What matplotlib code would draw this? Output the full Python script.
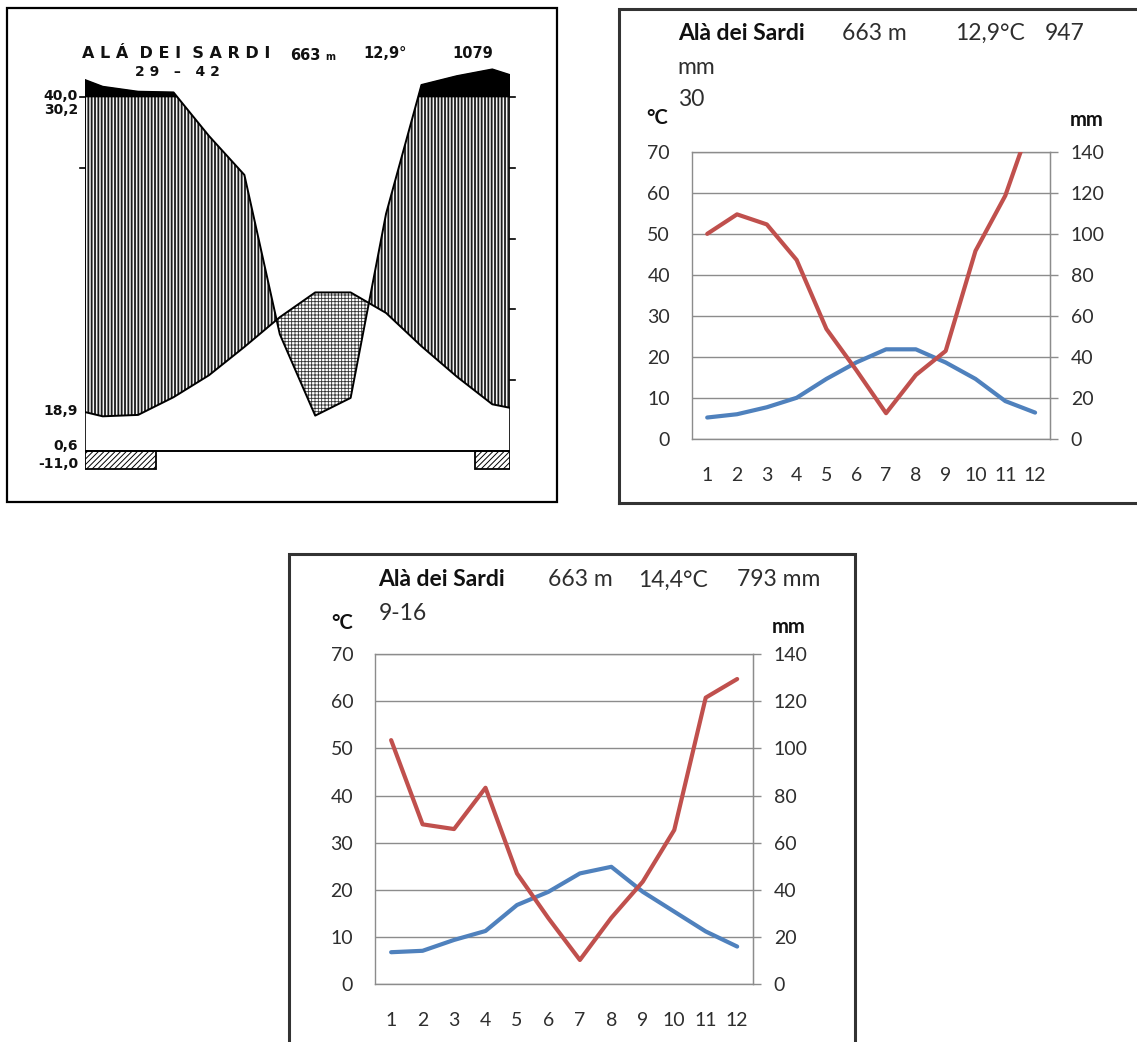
import numpy as np
import matplotlib.pyplot as plt
from matplotlib.patches import Rectangle

plt.rcParams['font.family'] = ['Lato', 'DejaVu Sans']

W, H = 1137, 1042

# ---- data ----
months = np.arange(1, 13)
month_labels = [str(m) for m in months]

# scanned Walter-Lieth diagram (29-42); first/last points are the edge values
scan_x = np.array([0.5, 1, 2, 3, 4, 5, 6, 7, 8, 9, 10, 11, 12, 12.5])
scan_temp = np.array([5.5, 4.9, 5.1, 7.6, 10.7, 14.7, 18.9, 22.4, 22.4, 19.5, 14.8, 10.5, 6.6, 6.1])
scan_prec = np.array([148, 129, 115, 113, 89, 78, 33, 10, 15, 67, 134, 159, 178, 162])
frost_months = [1, 2, 12]
scan_labels = ['40,0', '30,2', '18,9', '0,6', '-11,0']

# Excel chart, period 30 years
temp_30 = [5.3, 6.1, 7.8, 10.1, 14.7, 18.7, 21.9, 21.9, 18.7, 14.7, 9.3, 6.5]
prec_30 = [100, 109.5, 104.6, 87.3, 53.7, 33.7, 12.7, 31.3, 43, 91.7, 118.6, 160]

# Excel chart, period 9-16
temp_916 = [6.8, 7.1, 9.4, 11.3, 16.8, 19.6, 23.5, 24.9, 19.6, 15.4, 11.2, 8.0]
prec_916 = [103.5, 67.8, 65.8, 83.3, 47, 28, 10.3, 28.2, 43.5, 65.4, 121.5, 129.4]

RED = '#C0504D'
BLUE = '#4F81BD'
GRID = '#8c8c8c'
TXT = '#2e2e2e'


def px_axes(x0, y0, x1, y1):
    # axes placed by pixel box (top-left origin)
    return fig.add_axes([x0 / W, 1 - y1 / H, (x1 - x0) / W, (y1 - y0) / H])


def prec_scale(p):
    # 10 degC = 20 mm, above 100 mm the scale is reduced by 10
    p = np.asarray(p, dtype=float)
    return np.where(p <= 100, p / 2.0, 50 + (p - 100) / 20.0)


fig = plt.figure(figsize=(W / 100, H / 100), dpi=100)

# overlay in pixel coordinates for frames and texts
ov = fig.add_axes([0, 0, 1, 1])
ov.set_xlim(0, W)
ov.set_ylim(H, 0)
ov.axis('off')

ov.add_patch(Rectangle((7, 8), 550, 494, fill=False, ec='black', lw=1.6))
ov.plot([619, 619, 1140], [503, 9, 9], color='#333333', lw=2.2, solid_joinstyle='miter')
ov.plot([619, 1140], [503, 503], color='#333333', lw=2.2)
ov.plot([289, 289, 855, 855], [1045, 554, 554, 1045], color='#333333', lw=2.2,
        solid_joinstyle='miter')

# ---- scanned diagram ----
sc = px_axes(85, 61.6, 510, 475.8)
sc.set_xlim(0.5, 12.5)
sc.set_ylim(-3.5, 55)
sc.axis('off')

yp = prec_scale(scan_prec)
with plt.rc_context({'hatch.linewidth': 1.3}):
    sc.fill_between(scan_x, scan_temp, yp, where=yp >= scan_temp, interpolate=True,
                    facecolor='#f4f4f4', edgecolor='#1a1a1a', hatch='|||||', lw=0)
with plt.rc_context({'hatch.linewidth': 0.6}):
    sc.fill_between(scan_x, yp, scan_temp, where=scan_temp >= yp, interpolate=True,
                    facecolor='white', edgecolor='#333333', hatch='+++++', lw=0)
sc.fill_between(scan_x, 50, yp, where=yp >= 50, interpolate=True,
                facecolor='black', edgecolor='black', lw=0.5)
sc.plot(scan_x, scan_temp, color='black', lw=1.4)
sc.plot(scan_x, yp, color='black', lw=1.4)
sc.plot([0.5, 0.5], [0, 50], color='black', lw=1.2)
sc.plot([12.5, 12.5], [0, 50], color='black', lw=1.2)
sc.plot([0.5, 12.5], [0, 0], color='black', lw=1.4)

# frost boxes, consecutive months merged
runs = []
for m in sorted(frost_months):
    if runs and m == runs[-1][1] + 1:
        runs[-1][1] = m
    else:
        runs.append([m, m])
with plt.rc_context({'hatch.linewidth': 0.7}):
    for a, b in runs:
        sc.add_patch(Rectangle((a - 0.5, -2.6), b - a + 1, 2.6, facecolor='white',
                               edgecolor='black', hatch='//////', lw=1.3))

for lev in [10, 20, 30, 40, 50]:
    sc.plot([12.5, 12.65], [lev, lev], color='black', lw=1.2, clip_on=False)
for lev in [40, 50]:
    sc.plot([0.35, 0.5], [lev, lev], color='black', lw=1.2, clip_on=False)

scan_font = dict(family='DejaVu Sans', fontweight='bold', color='#111111')
for lab, yy in zip(scan_labels, [96, 110, 411, 446, 464]):
    ov.text(78, yy, lab, ha='right', va='center', fontsize=10, **scan_font)

ov.text(82, 54, 'A L Á  D E I  S A R D I', ha='left', va='center', fontsize=11.5,
        **scan_font)
ov.text(290, 55, '663', ha='left', va='center', fontsize=10.5, **scan_font)
ov.text(325, 57, 'm', ha='left', va='center', fontsize=7, **scan_font)
ov.text(363, 54, '12,9°', ha='left', va='center', fontsize=10.5, **scan_font)
ov.text(452, 54, '1079', ha='left', va='center', fontsize=10.5, **scan_font)
ov.text(135, 72, '2 9   –   4 2', ha='left', va='center', fontsize=10, **scan_font)


# ---- Excel-like charts ----
def excel_chart(box, temp, prec):
    ax = px_axes(*box)
    ax.plot(months, temp, color=BLUE, lw=3.0, solid_joinstyle='round', solid_capstyle='round')
    ax.set_xlim(0.5, 12.5)
    ax.set_ylim(0, 70)
    ax.set_yticks(range(0, 71, 10))
    ax.set_xticks(months, month_labels)
    ax.grid(axis='y', color=GRID, lw=1.0)
    ax.set_axisbelow(True)
    ax.tick_params(axis='y', length=0, pad=16, labelsize=14, labelcolor=TXT)
    ax.tick_params(axis='x', length=0, pad=20, labelsize=14, labelcolor=TXT)
    for s in ax.spines.values():
        s.set_color(GRID)
        s.set_linewidth(1.0)

    ax2 = ax.twinx()
    ax2.plot(months, prec, color=RED, lw=3.0, solid_joinstyle='round', solid_capstyle='round')
    ax2.set_ylim(0, 140)
    ax2.set_yticks(range(0, 141, 20))
    ax2.tick_params(axis='y', length=6, width=1.0, color=GRID, pad=9,
                    labelsize=14, labelcolor=TXT)
    for k, s in ax2.spines.items():
        s.set_visible(k == 'right')
        s.set_color(GRID)
    return ax, ax2


excel_chart((692.3, 151.7, 1050, 439.3), temp_30, prec_30)
excel_chart((375.4, 654, 752.9, 984.3), temp_916, prec_916)

TS = 16.5
# texts of chart 30
ov.text(677.7, 33, 'Alà dei Sardi', ha='left', va='center', fontsize=TS, fontweight='bold', color='#111111')
ov.text(841.7, 33, '663 m', ha='left', va='center', fontsize=TS, color=TXT)
ov.text(955, 33, '12,9°C', ha='left', va='center', fontsize=TS, color=TXT)
ov.text(1045, 33, '947', ha='left', va='center', fontsize=TS, color=TXT)
ov.text(677.7, 67, 'mm', ha='left', va='center', fontsize=TS, color=TXT)
ov.text(677.7, 100, '30', ha='left', va='center', fontsize=TS, color=TXT)
ov.text(646, 118, '°C', ha='left', va='center', fontsize=14.5, fontweight='bold', color='#111111')
ov.text(1070, 120, 'mm', ha='left', va='center', fontsize=14.5, fontweight='bold', color='#111111')

# texts of chart 9-16
ov.text(378.6, 580, 'Alà dei Sardi', ha='left', va='center', fontsize=TS, fontweight='bold', color='#111111')
ov.text(547.5, 580, '663 m', ha='left', va='center', fontsize=TS, color=TXT)
ov.text(637.9, 580, '14,4°C', ha='left', va='center', fontsize=TS, color=TXT)
ov.text(736.8, 580, '793 mm', ha='left', va='center', fontsize=TS, color=TXT)
ov.text(378.6, 613, '9-16', ha='left', va='center', fontsize=TS, color=TXT)
ov.text(331, 623, '°C', ha='left', va='center', fontsize=14.5, fontweight='bold', color='#111111')
ov.text(772, 627, 'mm', ha='left', va='center', fontsize=14.5, fontweight='bold', color='#111111')

fig.savefig('out.png', dpi=100, facecolor='white')
